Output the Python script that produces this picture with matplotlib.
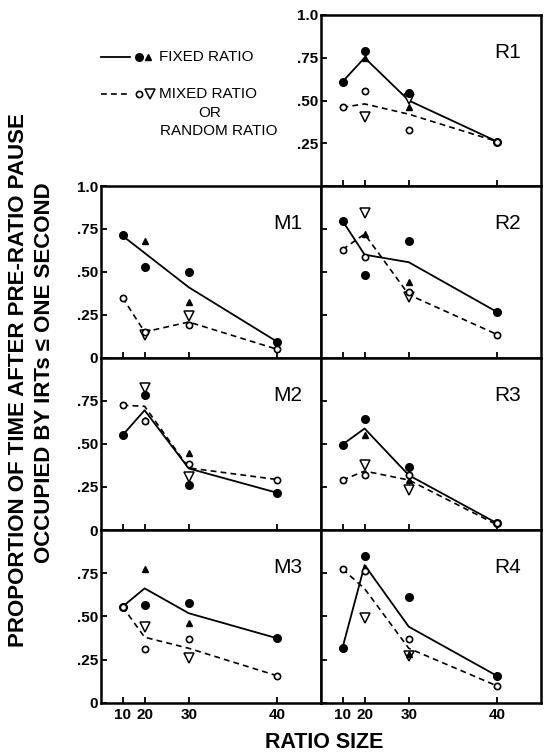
import numpy as np
import matplotlib
matplotlib.use("Agg")
import matplotlib.pyplot as plt

plt.rcParams['font.family'] = ['Liberation Sans', 'DejaVu Sans']

# === Datos ===
ratio = [10, 20, 30, 40]
ratio_tri = [20, 30]

# R1
r1_fr_line = [0.61, 0.75, 0.50, 0.26]
r1_fr_circ = [0.61, 0.79, 0.545, 0.26]
r1_fr_tri = [0.75, 0.46]
r1_mr_line = [0.46, 0.48, 0.42, 0.26]
r1_mr_circ = [0.46, 0.554, 0.327, 0.26]
r1_mr_tri = [0.405, 0.51]

# M1
m1_fr_line = [0.71, 0.61, 0.41, 0.093]
m1_fr_circ = [0.714, 0.531, 0.498, 0.093]
m1_fr_tri = [0.68, 0.324]
m1_mr_line = [0.35, 0.15, 0.208, 0.049]
m1_mr_circ = [0.35, 0.15, 0.19, 0.049]
m1_mr_tri = [0.13, 0.241]

# R2
r2_fr_line = [0.797, 0.60, 0.556, 0.266]
r2_fr_circ = [0.797, 0.479, 0.678, 0.266]
r2_fr_tri = [0.72, 0.44]
r2_mr_line = [0.63, 0.72, 0.367, 0.135]
r2_mr_circ = [0.63, 0.589, 0.382, 0.135]
r2_mr_tri = [0.842, 0.353]

# M2
m2_fr_line = [0.55, 0.695, 0.357, 0.216]
m2_fr_circ = [0.55, 0.782, 0.26, 0.216]
m2_fr_tri = [0.64, 0.448]
m2_mr_line = [0.724, 0.718, 0.36, 0.293]
m2_mr_circ = [0.724, 0.633, 0.382, 0.293]
m2_mr_tri = [0.826, 0.309]

# R3
r3_fr_line = [0.496, 0.589, 0.318, 0.039]
r3_fr_circ = [0.496, 0.645, 0.367, 0.039]
r3_fr_tri = [0.55, 0.29]
r3_mr_line = [0.29, 0.342, 0.29, 0.03]
r3_mr_circ = [0.29, 0.318, 0.318, 0.039]
r3_mr_tri = [0.376, 0.232]

# M3
m3_fr_line = [0.556, 0.662, 0.518, 0.373]
m3_fr_circ = [0.556, 0.566, 0.576, 0.373]
m3_fr_tri = [0.772, 0.463]
m3_mr_line = [0.556, 0.379, 0.315, 0.156]
m3_mr_circ = [0.556, 0.311, 0.367, 0.156]
m3_mr_tri = [0.44, 0.26]

# R4
r4_fr_line = [0.318, 0.797, 0.44, 0.155]
r4_fr_circ = [0.318, 0.849, 0.61, 0.155]
r4_fr_tri = [0.78, 0.28]
r4_mr_line = [0.774, 0.66, 0.315, 0.097]
r4_mr_circ = [0.774, 0.765, 0.367, 0.097]
r4_mr_tri = [0.489, 0.27]

ytick_vals = [0, 0.25, 0.5, 0.75, 1.0]
ytick_txt = ["0", ".25", ".50", ".75", "1.0"]

# === Figura ===
W, H = 547, 755
fig = plt.figure(figsize=(W / 100, H / 100), dpi=100)


def caja(x0, y_top, y_bot, x1):
    return [x0 / W, 1 - y_bot / H, (x1 - x0) / W, (y_bot - y_top) / H]


col_izq = (101, 321)
col_der = (321, 541)
filas = [(15, 186), (186, 357.7), (357.7, 530), (530, 702.7)]

paneles = [
    ("R1", col_der, 0, r1_fr_line, r1_fr_circ, r1_fr_tri, r1_mr_line, r1_mr_circ, r1_mr_tri),
    ("M1", col_izq, 1, m1_fr_line, m1_fr_circ, m1_fr_tri, m1_mr_line, m1_mr_circ, m1_mr_tri),
    ("R2", col_der, 1, r2_fr_line, r2_fr_circ, r2_fr_tri, r2_mr_line, r2_mr_circ, r2_mr_tri),
    ("M2", col_izq, 2, m2_fr_line, m2_fr_circ, m2_fr_tri, m2_mr_line, m2_mr_circ, m2_mr_tri),
    ("R3", col_der, 2, r3_fr_line, r3_fr_circ, r3_fr_tri, r3_mr_line, r3_mr_circ, r3_mr_tri),
    ("M3", col_izq, 3, m3_fr_line, m3_fr_circ, m3_fr_tri, m3_mr_line, m3_mr_circ, m3_mr_tri),
    ("R4", col_der, 3, r4_fr_line, r4_fr_circ, r4_fr_tri, r4_mr_line, r4_mr_circ, r4_mr_tri),
]

fwd = lambda x: np.power(2.0, np.asarray(x, dtype=float) / 10.0)
inv = lambda y: 10.0 * np.log2(np.clip(np.asarray(y, dtype=float), 1e-9, None))

for nombre, col, fila, frl, frc, frt, mrl, mrc, mrt in paneles:
    ax = fig.add_axes(caja(col[0], filas[fila][0], filas[fila][1], col[1]))
    ax.set_xscale('function', functions=(fwd, inv))
    ax.set_xlim(-43.2, 43.2)
    ax.set_ylim(0, 1.0)

    ax.plot(ratio, frl, color='black', lw=1.3, zorder=2)
    ax.plot(ratio, mrl, color='black', lw=1.2, ls=(0, (3.5, 2.5)), zorder=2)
    ax.plot(ratio, frc, 'o', color='black', ms=5.5, zorder=4)
    ax.plot(ratio_tri, frt, '^', color='black', ms=5, zorder=4)
    ax.plot(ratio, mrc, 'o', mfc='white', mec='black', mew=1.2, ms=4.5, zorder=5)
    ax.plot(ratio_tri, mrt, 'v', mfc='white', mec='black', mew=1.1, ms=7, zorder=3)

    ax.text(0.85, 0.78, nombre, transform=ax.transAxes, ha='center', va='center',
            fontsize=15)

    for s in ax.spines.values():
        s.set_linewidth(1.8)

    ax.set_xticks(ratio)
    ax.minorticks_off()
    ax.tick_params(axis='both', direction='in', length=4, width=1.3)
    if fila == 3:
        ax.set_xticklabels(["10", "20", "30", "40"], fontsize=11, fontweight='bold')
        ax.tick_params(axis='x', pad=4)
    else:
        ax.set_xticklabels([])

    ax.set_yticks(ytick_vals)
    if col == col_izq or nombre == "R1":
        etiquetas = list(ytick_txt)
        if nombre == "R1":
            etiquetas[0] = ""
        elif nombre != "M1":
            etiquetas[-1] = ""
        ax.set_yticklabels(etiquetas, fontsize=11, fontweight='bold')
        ax.tick_params(axis='y', pad=2)
    else:
        ax.set_yticklabels([])

# === Leyenda ===
def fx(px):
    return px / W


def fy(py):
    return 1 - py / H


fig.lines.append(plt.Line2D([fx(101), fx(130)], [fy(57), fy(57)], color='black', lw=1.3,
                            transform=fig.transFigure))
fig.lines.append(plt.Line2D([fx(101), fx(130)], [fy(94), fy(94)], color='black', lw=1.2,
                            ls=(0, (3.5, 2.5)), transform=fig.transFigure))
fig.lines.append(plt.Line2D([fx(139)], [fy(57)], marker='o', color='black', ms=5.5,
                            transform=fig.transFigure))
fig.lines.append(plt.Line2D([fx(148)], [fy(57)], marker='^', color='black', ms=5,
                            transform=fig.transFigure))
fig.lines.append(plt.Line2D([fx(139)], [fy(94)], marker='o', mfc='white', mec='black',
                            mew=1.2, ms=4.5, transform=fig.transFigure))
fig.lines.append(plt.Line2D([fx(150)], [fy(94)], marker='v', mfc='white', mec='black',
                            mew=1.1, ms=7, transform=fig.transFigure))
fig.text(fx(159), fy(57), "FIXED RATIO", fontsize=11, va='center', ha='left')
fig.text(fx(159), fy(94), "MIXED RATIO", fontsize=11, va='center', ha='left')
fig.text(fx(210), fy(113), "OR", fontsize=11, va='center', ha='center')
fig.text(fx(219), fy(131), "RANDOM RATIO", fontsize=11, va='center', ha='center')

# === Etiquetas de ejes ===
fig.text(fx(324), fy(742), "RATIO SIZE", fontsize=15.5, fontweight='bold',
         ha='center', va='center')
fig.text(fx(19), fy(380), "PROPORTION OF TIME AFTER PRE-RATIO PAUSE", fontsize=16,
         fontweight='bold', rotation=90, ha='center', va='center')
fig.text(fx(45), fy(373), "OCCUPIED BY IRTs \u2264 ONE SECOND", fontsize=16,
         fontweight='bold', rotation=90, ha='center', va='center')

fig.savefig("out.png", dpi=100)
